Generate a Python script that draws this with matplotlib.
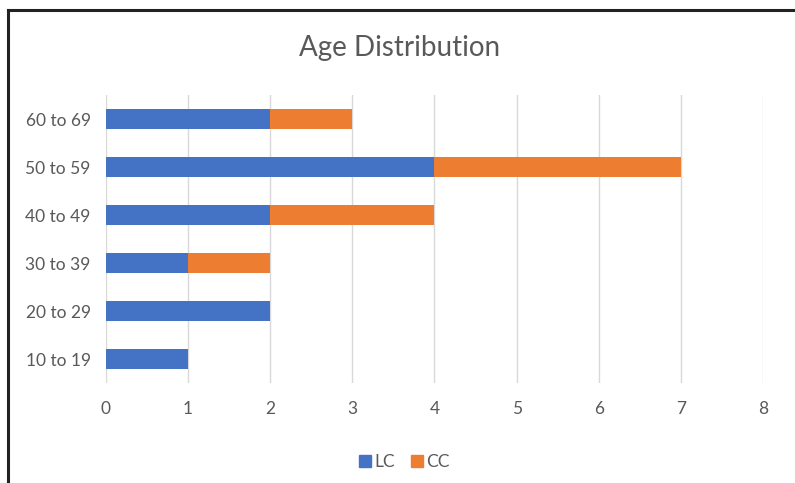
import matplotlib
matplotlib.use("Agg")
import matplotlib.pyplot as plt
from matplotlib.lines import Line2D

# Age groups, bottom to top
age_groups = ["10 to 19", "20 to 29", "30 to 39", "40 to 49", "50 to 59", "60 to 69"]
lc_counts = [1, 2, 1, 2, 4, 2]
cc_counts = [0, 0, 1, 2, 3, 1]
x_ticks = [0, 1, 2, 3, 4, 5, 6, 7, 8]

BLUE = "#4472C4"
ORANGE = "#ED7D31"
TEXT = "#595959"
GRID = "#D9D9D9"

plt.rcParams["font.family"] = ["Lato", "DejaVu Sans"]

fig = plt.figure(figsize=(7.95, 4.83), dpi=100)
ax = fig.add_axes([0.1333, 0.207, 0.8264, 0.596])

ypos = range(len(age_groups))
ax.barh(ypos, lc_counts, height=0.42, color=BLUE, label="LC", zorder=3)
ax.barh(ypos, cc_counts, left=lc_counts, height=0.42, color=ORANGE, label="CC", zorder=3)

ax.set_xlim(0, 8)
ax.set_ylim(-0.5, len(age_groups) - 0.5)
ax.set_xticks(x_ticks)
ax.set_yticks(list(ypos))
ax.set_yticklabels(age_groups)
ax.tick_params(axis="both", length=0, labelsize=12.5, colors=TEXT)
ax.tick_params(axis="x", pad=13)
ax.tick_params(axis="y", pad=11)
ax.xaxis.grid(True, color=GRID, linewidth=1, zorder=0)
for s in ax.spines.values():
    s.set_visible(False)

fig.text(0.503, 0.90, "Age Distribution", ha="center", va="center", fontsize=20, color=TEXT)

handles = [Line2D([], [], marker="s", linestyle="none", markersize=8, color=BLUE),
           Line2D([], [], marker="s", linestyle="none", markersize=8, color=ORANGE)]
fig.legend(handles, ["LC", "CC"], loc="center", bbox_to_anchor=(0.508, 0.043), ncol=2,
           frameon=False, fontsize=12.5, labelcolor=TEXT, handletextpad=0.1,
           columnspacing=0.9, handlelength=0.8)

# black frame along top and left edges
fig.add_artist(Line2D([0.01, 1.0], [0.979, 0.979], color="#222222", linewidth=2.2,
                      transform=fig.transFigure))
fig.add_artist(Line2D([0.0105, 0.0105], [0.0, 0.979], color="#222222", linewidth=2.2,
                      transform=fig.transFigure))

fig.savefig("out.png", dpi=100)
